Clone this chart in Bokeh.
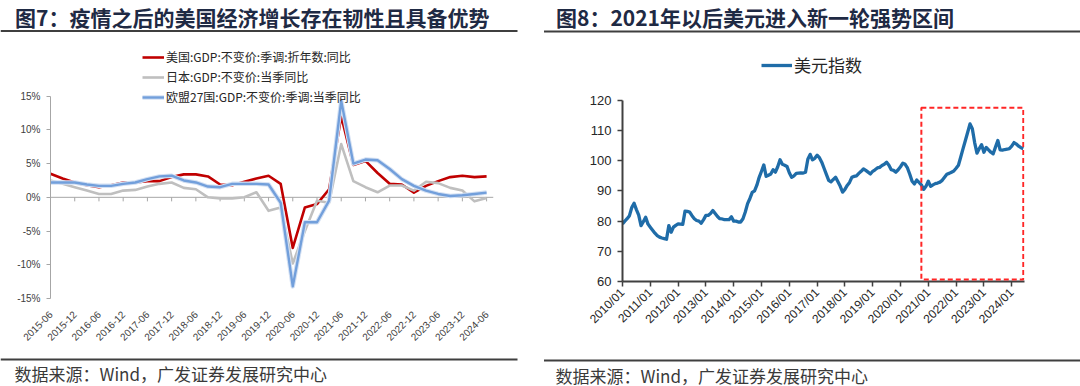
import math
from bokeh.plotting import figure
from bokeh.layouts import row, column
from bokeh.models import Range1d, FixedTicker, LinearAxis, Legend, LegendItem, BoxAnnotation, Span
from bokeh.core.properties import value
from bokeh.embed import file_html
from bokeh.resources import INLINE

# ---------------- data: chart 7 (quarterly GDP yoy, %) ----------------
quarters = [f"{y}-{m}" for y in range(2015, 2025) for m in ("03", "06", "09", "12")][1:-2]
us_gdp = [3.5, 2.8, 2.2, 1.8, 1.5, 1.8, 2.2, 2.2, 2.4, 2.4, 3.0, 3.4, 3.4, 3.1, 1.9, 1.8,
          2.3, 2.8, 3.2, 2.0, -7.5, -1.5, -1.0, 1.2, 12.0, 4.8, 5.4, 3.6, 2.0, 1.9, 0.7,
          1.7, 2.4, 3.0, 3.2, 3.0, 3.1]
jp_gdp = [2.5, 2.0, 1.5, 1.0, 0.5, 0.5, 1.0, 1.1, 1.6, 2.0, 2.2, 1.4, 1.2, 0.0, -0.15, -0.15,
          0.0, 0.75, -2.0, -1.5, -9.8, -5.0, -0.5, -0.8, 7.9, 2.4, 1.5, 0.75, 1.75, 1.75, 1.0,
          2.3, 2.1, 1.4, 1.0, -0.6, -0.1]
eu_gdp = [2.2, 2.2, 2.2, 1.9, 1.7, 1.7, 2.0, 2.2, 2.7, 3.1, 3.2, 2.5, 2.2, 1.6, 1.5, 2.0,
          2.0, 2.0, 1.9, -0.8, -13.2, -3.7, -3.7, -0.5, 14.3, 5.0, 5.6, 5.5, 4.2, 2.7, 1.7,
          1.0, 0.5, 0.2, 0.3, 0.5, 0.7]
gdp_names = ["美国:GDP:不变价:季调:折年数:同比", "日本:GDP:不变价:当季同比", "欧盟27国:GDP:不变价:季调:当季同比"]
gdp_tick_labels = quarters[::2]
gdp_y_ticks = [-15, -10, -5, 0, 5, 10, 15]

# ---------------- data: chart 8 (monthly US dollar index) ----------------
dxy_start_year = 2010
dxy = [
    79.1, 80.0, 80.8, 81.8, 84.5, 85.9, 83.8, 82.0, 78.5, 79.8, 81.3, 79.0,   # 2010
    78.0, 77.0, 76.0, 75.2, 74.7, 74.4, 74.2, 74.0, 78.5, 76.3, 78.0, 78.6,   # 2011
    79.1, 79.0, 78.9, 83.3, 83.2, 83.0, 81.8, 80.8, 80.2, 80.0, 79.3, 80.5,   # 2012
    81.9, 81.9, 82.5, 83.5, 82.5, 81.5, 80.8, 80.7, 80.5, 80.5, 80.5, 81.4,   # 2013
    80.0, 80.0, 79.7, 79.7, 80.8, 83.0, 85.8, 87.5, 89.5, 90.0, 91.9, 94.5,   # 2014
    96.5, 98.6, 94.8, 95.2, 95.6, 97.0, 96.2, 98.0, 100.3, 98.8, 98.5, 98.1,  # 2015
    96.0, 94.5, 95.0, 95.8, 95.9, 96.0, 95.9, 96.2, 100.5, 102.1, 100.3, 100.8,  # 2016
    101.8, 101.0, 99.5, 97.5, 95.5, 93.5, 93.0, 93.8, 94.5, 93.0, 91.5, 89.6,  # 2017
    90.5, 91.8, 92.8, 94.5, 94.8, 95.0, 95.8, 96.5, 97.3, 96.8, 96.2, 95.6,   # 2018
    96.5, 97.0, 97.6, 97.8, 98.4, 98.8, 99.5, 98.5, 97.0, 96.8, 96.2, 97.0,   # 2019
    98.0, 99.2, 98.8, 97.6, 95.5, 93.2, 92.3, 93.6, 92.8, 92.0, 90.5, 91.5,   # 2020
    93.2, 91.5, 92.0, 92.4, 92.6, 92.9, 93.5, 94.5, 95.5, 95.8, 96.2, 96.6,   # 2021
    97.5, 98.5, 101.2, 104.0, 106.7, 109.4, 112.2, 110.6, 106.0, 102.5, 104.0, 105.3,  # 2022
    102.8, 104.4, 103.6, 102.8, 102.3, 104.5, 106.7, 103.6, 103.5, 103.7, 103.8, 104.0,  # 2023
    104.8, 106.0, 105.5, 104.8, 104.3, 104.0,                                  # 2024
]
dxy_name = "美元指数"
dxy_years = list(range(2010, 2025))
dxy_tick_labels = [f"{y}/01" for y in dxy_years]
dxy_y_ticks = [60, 70, 80, 90, 100, 110, 120]
highlight_from, highlight_to = "2020/10", "2024/06"
highlight_low, highlight_high = 60.7, 117.5

titles = ["图7：疫情之后的美国经济增长存在韧性且具备优势", "图8：2021年以后美元进入新一轮强势区间"]
source = "数据来源：Wind，广发证券发展研究中心"

CJK = "Noto Sans CJK SC"
LAT = "Liberation Sans"
PW = 540


def band(height, text, tx, ty, size, color, style, rx0, rx1, ry):
    p = figure(width=PW, height=height, x_range=Range1d(0, PW), y_range=Range1d(height, 0),
               toolbar_location=None, output_backend="svg", min_border=0, frame_align=False,
               x_axis_location=None, y_axis_location=None, title=None)
    p.grid.visible = False
    p.outline_line_color = None
    p.line([rx0, rx1], [ry, ry], line_color="#3F3F3F", line_width=2)
    p.text(x=[tx], y=[ty], text=[text], text_font=value(CJK), text_font_size=f"{size}px",
           text_font_style=style, text_color=color, text_baseline="top", text_align="left")
    return p


# ---------------- chart 7 ----------------
xq = list(range(len(quarters)))
p1 = figure(width=PW, height=316, x_range=Range1d(0, 36.57), y_range=Range1d(-15, 23.25),
            toolbar_location=None, output_backend="svg", frame_align=False, title=None,
            min_border_left=50, min_border_right=47, min_border_top=6, min_border_bottom=52,
            x_axis_location=None, y_axis_location=None)
p1.grid.visible = False
p1.outline_line_color = None

tick_pos = [quarters.index(q) for q in gdp_tick_labels]
yax = LinearAxis(ticker=FixedTicker(ticks=gdp_y_ticks), bounds=(-15, 15),
                 major_label_overrides={t: f"{t}%" for t in gdp_y_ticks},
                 axis_line_color="#A6A6A6", major_tick_line_color="#A6A6A6",
                 major_tick_out=4, major_tick_in=0, minor_tick_out=0, minor_tick_in=0,
                 major_label_text_font_size="10px", major_label_text_color="#404040",
                 major_label_text_font=LAT, major_label_standoff=6)
p1.add_layout(yax, "left")
xax = LinearAxis(ticker=FixedTicker(ticks=tick_pos),
                 major_label_overrides={i: q for i, q in zip(tick_pos, gdp_tick_labels)},
                 major_label_orientation=math.pi / 4, axis_line_color=None,
                 major_tick_line_color=None, minor_tick_line_color=None,
                 major_label_text_font_size="10px", major_label_text_color="#404040",
                 major_label_text_font=LAT, major_label_standoff=8)
p1.add_layout(xax, "below")

# zero line with half-year tick marks (category axis crossing at 0)
p1.add_layout(Span(location=0, dimension="width", line_color="#A6A6A6", line_width=1, level="underlay"))
p1.segment(x0=tick_pos, y0=[0] * len(tick_pos), x1=tick_pos, y1=[-0.6] * len(tick_pos),
           line_color="#A6A6A6", line_width=1, level="underlay")

r_us = p1.line(xq, us_gdp, line_color="#C00000", line_width=2.6, line_join="round")
r_jp = p1.line(xq, jp_gdp, line_color="#BFBFBF", line_width=2.6, line_join="round")
r_eg = p1.line(xq, eu_gdp, line_color="#D3E0F3", line_width=4.5, line_join="round")
r_eu = p1.line(xq, eu_gdp, line_color="#729FDB", line_width=2.4, line_join="round")

leg1 = Legend(items=[LegendItem(label=gdp_names[0], renderers=[r_us]),
                     LegendItem(label=gdp_names[1], renderers=[r_jp]),
                     LegendItem(label=gdp_names[2], renderers=[r_eg, r_eu])],
              location=(92, 193), orientation="vertical", background_fill_alpha=0,
              border_line_color=None, padding=0, margin=0, spacing=3,
              glyph_width=22, glyph_height=14, label_height=14, label_standoff=2,
              label_text_font=CJK, label_text_font_size="12px", label_text_color="#262626")
p1.add_layout(leg1, "center")

# ---------------- chart 8 ----------------
xm = [dxy_start_year + i / 12 for i in range(len(dxy))]
p2 = figure(width=PW, height=316, x_range=Range1d(2010, 2024.46), y_range=Range1d(60, 139.8),
            toolbar_location=None, output_backend="svg", frame_align=False, title=None,
            min_border_left=82, min_border_right=56, min_border_top=6, min_border_bottom=69,
            x_axis_location=None, y_axis_location=None)
p2.grid.visible = False
p2.outline_line_color = None

yax2 = LinearAxis(ticker=FixedTicker(ticks=dxy_y_ticks), bounds=(60, 120),
                  axis_line_color="#404040", axis_line_width=2, major_tick_line_color="#404040",
                  major_tick_line_width=1.5, major_tick_out=5, major_tick_in=0,
                  minor_tick_out=0, minor_tick_in=0,
                  major_label_text_font_size="13px", major_label_text_color="#262626",
                  major_label_text_font=LAT, major_label_standoff=6)
p2.add_layout(yax2, "left")
xax2 = LinearAxis(ticker=FixedTicker(ticks=dxy_years),
                  major_label_overrides={y: l for y, l in zip(dxy_years, dxy_tick_labels)},
                  major_label_orientation=math.pi / 4,
                  axis_line_color="#404040", axis_line_width=2, major_tick_line_color="#404040",
                  major_tick_line_width=1.5, major_tick_out=5, major_tick_in=0,
                  minor_tick_out=0, minor_tick_in=0,
                  major_label_text_font_size="12px", major_label_text_color="#262626",
                  major_label_text_font=LAT, major_label_standoff=4)
p2.add_layout(xax2, "below")


def ym(s):
    y, m = s.split("/")
    return int(y) + (int(m) - 1) / 12


box = BoxAnnotation(left=ym(highlight_from), right=ym(highlight_to), bottom=highlight_low,
                    top=highlight_high, fill_alpha=0, line_color="#FF2626", line_alpha=1,
                    line_width=2, line_dash="5 3")
p2.add_layout(box)
r_dxy = p2.line(xm, dxy, line_color="#1F6CA8", line_width=3.3, line_join="round")
leg2 = Legend(items=[LegendItem(label=dxy_name, renderers=[r_dxy])],
              location=(139, 204), orientation="vertical", background_fill_alpha=0,
              border_line_color=None, padding=0, margin=0, spacing=0,
              glyph_width=31, glyph_height=16, label_height=16, label_standoff=2,
              label_text_font=CJK, label_text_font_size="17px", label_text_color="#262626")
p2.add_layout(leg2, "center")

t1 = band(34, titles[0], 14.5, 1, 21, "#1F2A44", "bold", 0, 517, 30.5)
t2 = band(34, titles[1], 15.5, 1, 21, "#1F2A44", "bold", 3.5, PW, 31)
f1 = band(36, source, 14, 10, 17, "#3A3A3A", "normal", 0, 517, 9)
f2 = band(36, source, 15, 12, 17, "#3A3A3A", "normal", 3.5, PW, 10)

layout = row(column(t1, p1, f1), column(t2, p2, f2))
open("out.html", "w").write(file_html(layout, INLINE))
